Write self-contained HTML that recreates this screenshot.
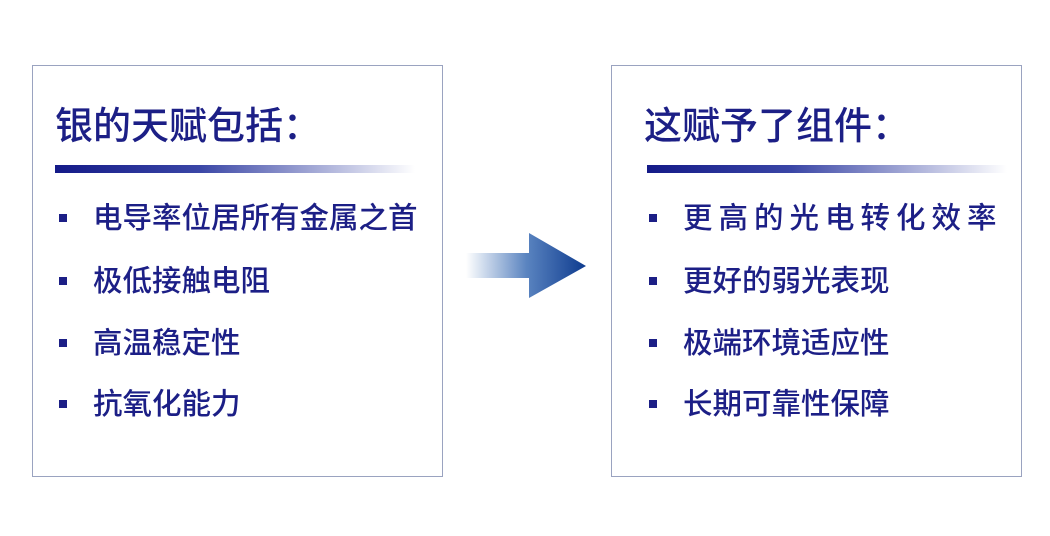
<!DOCTYPE html>
<html><head><meta charset="utf-8"><style>
body{margin:0;width:1050px;height:536px;background:#fff;position:relative;overflow:hidden;font-family:"Liberation Sans","Noto Sans CJK SC",sans-serif;color:#1c1f86}
.box{position:absolute;top:65px;width:411px;height:412px;border:1px solid #9aa3c0;box-sizing:border-box}
.t{position:absolute;top:99px;font-size:38px;line-height:48px;white-space:nowrap;font-weight:500;font-family:"Noto Sans CJK SC",sans-serif}
.bar{position:absolute;top:165px;height:8px;width:360px;background:linear-gradient(to right,#141a88 0%,#3a46a6 40%,#fff 100%)}
.it{position:absolute;font-size:29.5px;line-height:36px;white-space:nowrap;font-weight:500;font-family:"Noto Sans CJK SC",sans-serif}
.sq{position:absolute;width:8px;height:8px;background:#1c1f86}
</style></head><body>
<div class="box" style="left:32px"></div>
<div class="box" style="left:611px"></div>
<div class="t" style="left:55px">银的天赋包括：</div>
<div class="t" style="left:644px">这赋予了组件：</div>
<div class="bar" style="left:55px"></div>
<div class="bar" style="left:647px"></div>

<div class="sq" style="left:59px;top:214px"></div>
<div class="sq" style="left:59px;top:277px"></div>
<div class="sq" style="left:59px;top:339px"></div>
<div class="sq" style="left:59px;top:400px"></div>
<div class="it" style="left:93px;top:198px">电导率位居所有金属之首</div>
<div class="it" style="left:93px;top:261px">极低接触电阻</div>
<div class="it" style="left:93px;top:323px">高温稳定性</div>
<div class="it" style="left:93px;top:384px">抗氧化能力</div>

<div class="sq" style="left:649px;top:214px"></div>
<div class="sq" style="left:649px;top:277px"></div>
<div class="sq" style="left:649px;top:339px"></div>
<div class="sq" style="left:649px;top:400px"></div>
<div class="it" style="left:683px;top:198px;letter-spacing:6.0px">更高的光电转化效率</div>
<div class="it" style="left:683px;top:261px">更好的弱光表现</div>
<div class="it" style="left:683px;top:323px">极端环境适应性</div>
<div class="it" style="left:683px;top:384px">长期可靠性保障</div>

<svg style="position:absolute;left:0;top:0" width="1050" height="536">
<defs><linearGradient id="g" x1="466" x2="587" y1="0" y2="0" gradientUnits="userSpaceOnUse">
<stop offset="0" stop-color="#fff"/><stop offset="0.5" stop-color="#5a84c0"/><stop offset="1" stop-color="#0d3a8e"/></linearGradient></defs>
<polygon points="466,253 529,253 529,233 586,266 529,298 529,278 466,278" fill="url(#g)"/>
</svg>
</body></html>
